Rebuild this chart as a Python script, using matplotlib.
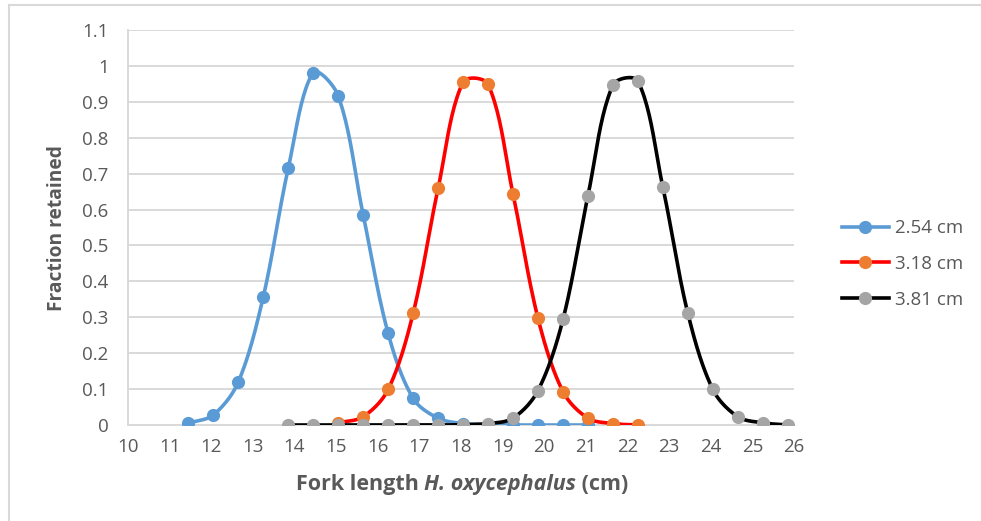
import numpy as np
import matplotlib
matplotlib.use("Agg")
import matplotlib.pyplot as plt
from matplotlib.lines import Line2D

# ---------------------------------------------------------------
# data (fork length in cm, fraction retained)
# ---------------------------------------------------------------
x_254 = [11.45, 12.05, 12.65, 13.25, 13.85, 14.45, 15.05, 15.65, 16.25,
         16.85, 17.45, 18.05, 18.65, 19.25, 19.85, 20.45, 21.05]
y_254 = [0.005, 0.028, 0.120, 0.357, 0.715, 0.981, 0.917, 0.585, 0.255,
         0.074, 0.019, 0.004, 0.001, 0.0, 0.0, 0.0, 0.0]

x_318 = [15.05, 15.65, 16.25, 16.85, 17.45, 18.05, 18.65, 19.25, 19.85,
         20.45, 21.05, 21.65, 22.25]
y_318 = [0.006, 0.023, 0.099, 0.311, 0.659, 0.955, 0.949, 0.643, 0.297,
         0.093, 0.019, 0.004, 0.0]

x_381 = [13.85, 14.45, 15.05, 15.65, 16.25, 16.85, 17.45, 18.05, 18.65,
         19.25, 19.85, 20.45, 21.05, 21.65, 22.25, 22.85, 23.45, 24.05,
         24.65, 25.25, 25.85]
y_381 = [0.0, 0.0, 0.0, 0.0, 0.0, 0.0, 0.0, 0.001, 0.004,
         0.019, 0.096, 0.294, 0.639, 0.947, 0.958, 0.662, 0.311, 0.099,
         0.023, 0.006, 0.0]

labels = ['2.54 cm', '3.18 cm', '3.81 cm']
line_colors = ['#5B9BD5', '#FF0000', '#000000']
marker_colors = ['#5B9BD5', '#ED7D31', '#A5A5A5']

y_ticks = np.round(np.arange(0, 1.11, 0.1), 1)
y_tick_labels = ['0', '0.1', '0.2', '0.3', '0.4', '0.5', '0.6', '0.7',
                 '0.8', '0.9', '1', '1.1']
x_ticks = np.arange(10, 27, 1)

TXT = '#595959'
GRID = '#D9D9D9'
plt.rcParams['font.family'] = ['Open Sans', 'DejaVu Sans']

# ---------------------------------------------------------------
# Excel-like smoothed line (bezier through the points, screen space)
# ---------------------------------------------------------------
def smooth(ax, x, y, n=24):
    P = ax.transData.transform(np.column_stack([x, y]))
    E = np.vstack([P[0], P, P[-1]])
    t = np.linspace(0, 1, n)[:, None]
    out = []
    for i in range(len(P) - 1):
        p0, p1, p2, p3 = E[i], E[i + 1], E[i + 2], E[i + 3]
        d01 = np.hypot(*(p1 - p0))
        d12 = np.hypot(*(p2 - p1))
        d23 = np.hypot(*(p3 - p2))
        f1 = d12 / (d01 + d12) / 3 if d01 + d12 > 0 else 0
        f2 = d12 / (d12 + d23) / 3 if d12 + d23 > 0 else 0
        c1 = p1 + (p2 - p0) * f1
        c2 = p2 - (p3 - p1) * f2
        seg = (1 - t)**3 * p1 + 3 * (1 - t)**2 * t * c1 + 3 * (1 - t) * t**2 * c2 + t**3 * p2
        out.append(seg if i == 0 else seg[1:])
    S = ax.transData.inverted().transform(np.vstack(out))
    return S[:, 0], S[:, 1]

# ---------------------------------------------------------------
# figure
# ---------------------------------------------------------------
fig = plt.figure(figsize=(9.81, 5.21), dpi=100)
ax = fig.add_axes([128 / 981, 1 - 425 / 521, (794 - 128) / 981, (425 - 30) / 521])
ax.set_xlim(10, 26)
ax.set_ylim(0, 1.1)

series = [(x_254, y_254), (x_318, y_318), (x_381, y_381)]
for k, (xs, ys) in enumerate(series):
    sx, sy = smooth(ax, xs, ys)
    ax.plot(sx, sy, color=line_colors[k], lw=2.6, zorder=3 + k, solid_capstyle='round')
    ax.plot(xs, ys, 'o', color=marker_colors[k], ms=9.5, mew=0, zorder=3 + k)

ax.set_yticks(y_ticks)
ax.set_yticklabels(y_tick_labels)
ax.set_xticks(x_ticks)
ax.tick_params(length=0, labelsize=13.5, colors=TXT)
ax.tick_params(axis='y', pad=14)
ax.tick_params(axis='x', pad=9)
ax.grid(axis='y', color=GRID, lw=1.4, zorder=0)
for s in ['top', 'right']:
    ax.spines[s].set_visible(False)
for s in ['left', 'bottom']:
    ax.spines[s].set_color(GRID)
    ax.spines[s].set_linewidth(1.4)

# y label
fig.text(57 / 981, 1 - 228 / 521, 'Fraction retained', rotation=90,
         ha='center', va='center', fontsize=13.8, fontweight='bold', color=TXT)

# x label with italic species name, centred under the plot
parts = [('Fork length ', 'normal'), ('H. oxycephalus', 'italic'), (' (cm)', 'normal')]
texts = [fig.text(0, 0, p, fontsize=15.5, fontweight='bold', style=st, color=TXT,
                  va='baseline') for p, st in parts]
fig.canvas.draw()
r = fig.canvas.get_renderer()
widths = [t.get_window_extent(r).width for t in texts]
x0 = 462 - sum(widths) / 2
for t, w in zip(texts, widths):
    t.set_position((x0 / 981, 1 - 490 / 521))
    x0 += w

# legend
handles = [Line2D([], [], color=line_colors[k], lw=2.6, marker='o', ms=9.5, mew=0,
                  markerfacecolor=marker_colors[k]) for k in range(3)]
leg = fig.legend(handles, labels, loc='center left', bbox_to_anchor=(842 / 981, 1 - 264 / 521),
                 frameon=False, fontsize=13.5, handlelength=2.5, handletextpad=0.35,
                 labelspacing=0.95, borderpad=0, borderaxespad=0)
for t in leg.get_texts():
    t.set_color(TXT)

# thin chart-area border (left and top)
fig.add_artist(Line2D([9 / 981, 9 / 981], [0, 1 - 5 / 521], color=GRID, lw=1.5))
fig.add_artist(Line2D([9 / 981, 1], [1 - 5 / 521, 1 - 5 / 521], color=GRID, lw=1.5))

plt.savefig('out.png', dpi=100)
